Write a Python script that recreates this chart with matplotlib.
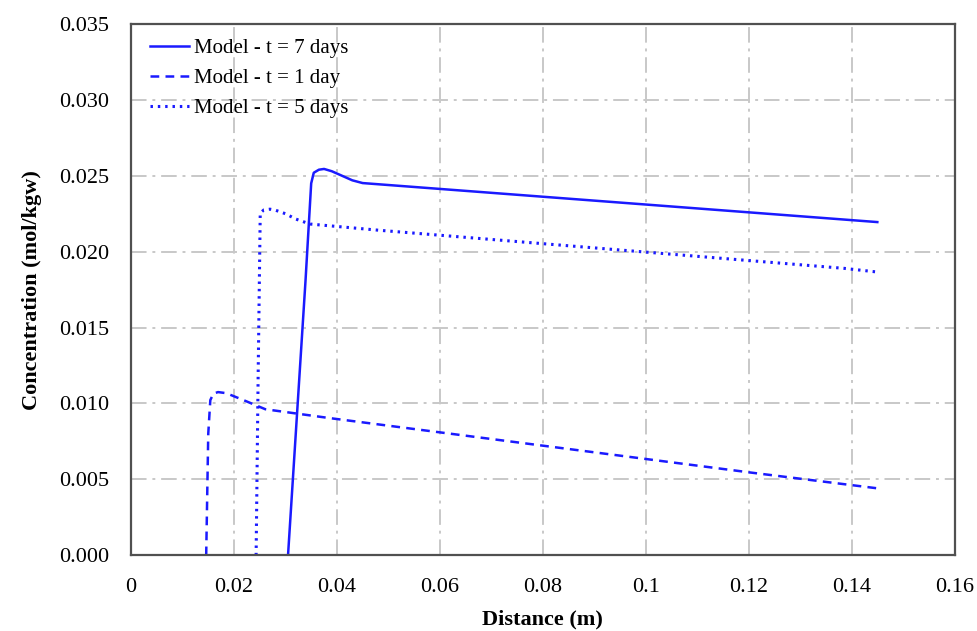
import matplotlib
matplotlib.use('Agg')
import matplotlib.pyplot as plt

plt.rcParams['font.family'] = ['Liberation Serif', 'DejaVu Serif']

# t = 7 days
x7 = [0.0305, 0.0339, 0.0350, 0.0355, 0.0365, 0.0375, 0.0390, 0.0410, 0.0430, 0.0450, 0.145]
c7 = [0.0, 0.0181, 0.0245, 0.0252, 0.02540, 0.02545, 0.02530, 0.02500, 0.02470, 0.02452, 0.02195]

# t = 1 day
x1 = [0.0146, 0.0150, 0.0154, 0.0160, 0.0169, 0.0185, 0.0220, 0.0261, 0.0383, 0.1204, 0.1448]
c1 = [0.0, 0.0080, 0.01022, 0.01065, 0.01075, 0.01068, 0.01020, 0.00962, 0.00905, 0.00545, 0.00442]

# t = 5 days
x5 = [0.0243, 0.0247, 0.0251, 0.0258, 0.0270, 0.0280, 0.0300, 0.0320, 0.0348, 0.0479, 0.1386, 0.145]
c5 = [0.0, 0.0120, 0.02254, 0.02275, 0.02280, 0.02274, 0.02250, 0.02215, 0.02182, 0.02142, 0.01890, 0.01866]

fig, ax = plt.subplots(figsize=(9.78, 6.31), dpi=100)
fig.subplots_adjust(left=0.134, right=0.976, top=0.962, bottom=0.12)

ax.plot(x7, c7, color='#1a1aff', lw=1.8, ls='-', label='Model - t = 7 days')
ax.plot(x1, c1, color='#1a1aff', lw=1.8, ls=(0, (3.5, 2.5)), label='Model - t = 1 day')
ax.plot(x5, c5, color='#1a1aff', lw=2.2, ls=(0, (0.8, 1.6)), label='Model - t = 5 days')

ax.set_xlim(0, 0.16)
ax.set_ylim(0, 0.035)
ax.set_xticks([0, 0.02, 0.04, 0.06, 0.08, 0.1, 0.12, 0.14, 0.16])
ax.set_xticklabels(['0', '0.02', '0.04', '0.06', '0.08', '0.1', '0.12', '0.14', '0.16'])
ax.set_yticks([0, 0.005, 0.01, 0.015, 0.02, 0.025, 0.03, 0.035])
ax.set_yticklabels(['0.000', '0.005', '0.010', '0.015', '0.020', '0.025', '0.030', '0.035'])
ax.tick_params(axis='y', labelsize=16, length=0, pad=16)
ax.tick_params(axis='x', labelsize=16, length=0, pad=16)

ax.grid(True, color='#c8c8c8', ls=(0, (8, 3, 1.5, 3)), lw=1.4)
ax.set_axisbelow(True)
for s in ax.spines.values():
    s.set_color('#505050')
    s.set_linewidth(1.6)

ax.set_xlabel('Distance (m)', fontsize=16, fontweight='bold', labelpad=9)
ax.set_ylabel('Concentration (mol/kgw)', fontsize=16, fontweight='bold', labelpad=12)

ax.legend(loc='upper left', bbox_to_anchor=(0.0, 1.008), frameon=False, fontsize=15,
          handlelength=1.9, handletextpad=0.2, labelspacing=0.5, borderaxespad=0.5)

fig.savefig('out.png', dpi=100)
